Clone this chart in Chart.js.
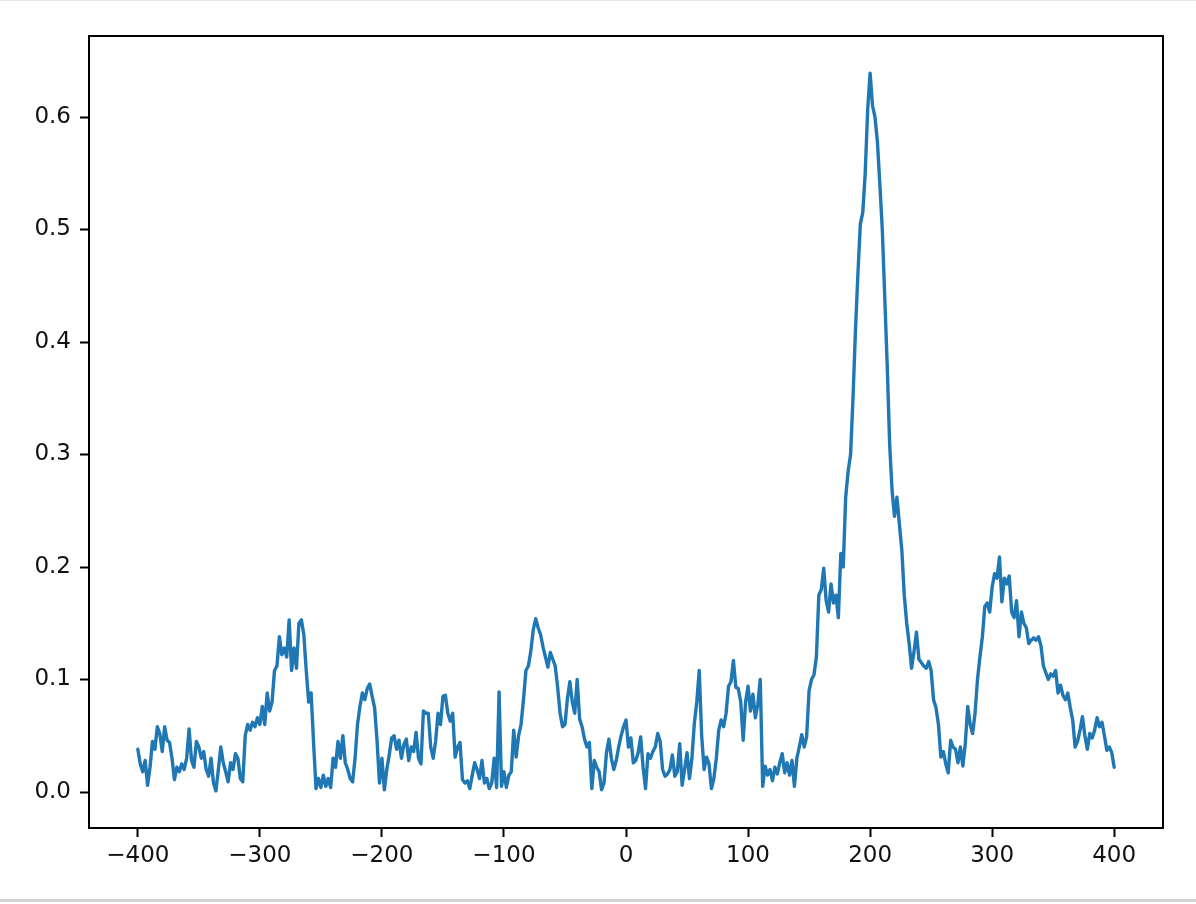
<!DOCTYPE html>
<html lang="en">
<head>
    <meta charset="UTF-8">
    <title>signal</title>
    <script src="https://cdn.jsdelivr.net/npm/chart.js"></script>
    <style>
        body { margin: 0; background: #fff; }
        #wrap {
            width: 1196px;
            height: 902px;
            border-top: 1px solid #e6e6e6;
            border-bottom: 3px solid #d3d3d3;
            box-sizing: border-box;
        }
        canvas { display: block; }
    </style>
</head>
<body>
    <div id="wrap">
        <canvas id="lineChart" width="1196" height="898"></canvas>
    </div>
    <script>
        // x positions: every 2 units from -400 to 400
        var xStart = -400;
        var xStep = 2;

        // values, one per x position
        var values = [
            0.038, 0.025, 0.018, 0.028, 0.006, 0.022, 0.045, 0.038, 0.058, 0.052,
            0.036, 0.058, 0.046, 0.044, 0.030, 0.011, 0.022, 0.018, 0.025, 0.020,
            0.030, 0.056, 0.028, 0.022, 0.045, 0.040, 0.030, 0.036, 0.020, 0.014,
            0.030, 0.008, 0.001, 0.020, 0.040, 0.026, 0.018, 0.009, 0.026, 0.020,
            0.034, 0.030, 0.012, 0.009, 0.050, 0.060, 0.055, 0.062, 0.058, 0.066,
            0.060, 0.076, 0.060, 0.088, 0.072, 0.080, 0.108, 0.112, 0.138, 0.122,
            0.128, 0.120, 0.153, 0.108, 0.128, 0.110, 0.150, 0.153, 0.140, 0.108,
            0.080, 0.088, 0.044, 0.003, 0.012, 0.004, 0.015, 0.005, 0.012, 0.004,
            0.030, 0.022, 0.045, 0.030, 0.050, 0.026, 0.020, 0.012, 0.009, 0.030,
            0.060, 0.076, 0.088, 0.082, 0.092, 0.096, 0.085, 0.075, 0.046, 0.008,
            0.030, 0.002, 0.020, 0.033, 0.048, 0.050, 0.038, 0.046, 0.030, 0.042,
            0.047, 0.028, 0.040, 0.036, 0.053, 0.030, 0.025, 0.072, 0.070, 0.070,
            0.040, 0.030, 0.045, 0.070, 0.060, 0.085, 0.086, 0.070, 0.063, 0.070,
            0.031, 0.040, 0.044, 0.011, 0.008, 0.010, 0.003, 0.015, 0.026, 0.020,
            0.012, 0.028, 0.008, 0.012, 0.003, 0.008, 0.030, 0.004, 0.089, 0.005,
            0.018, 0.004, 0.015, 0.018, 0.055, 0.031, 0.050, 0.060, 0.082, 0.108,
            0.112, 0.125, 0.144, 0.154, 0.146, 0.140, 0.129, 0.120, 0.111, 0.124,
            0.118, 0.112, 0.093, 0.070, 0.058, 0.060, 0.083, 0.098, 0.080, 0.070,
            0.100, 0.065, 0.058, 0.047, 0.040, 0.044, 0.003, 0.028, 0.022, 0.018,
            0.002, 0.008, 0.035, 0.047, 0.030, 0.020, 0.028, 0.040, 0.050, 0.058,
            0.064, 0.040, 0.048, 0.026, 0.028, 0.035, 0.049, 0.022, 0.003, 0.034,
            0.030, 0.036, 0.040, 0.052, 0.045, 0.020, 0.014, 0.016, 0.020, 0.033,
            0.014, 0.018, 0.043, 0.006, 0.020, 0.035, 0.012, 0.030, 0.061, 0.080,
            0.108, 0.050, 0.020, 0.031, 0.025, 0.003, 0.012, 0.030, 0.055, 0.064,
            0.058, 0.070, 0.094, 0.098, 0.117, 0.093, 0.092, 0.080, 0.046, 0.080,
            0.094, 0.072, 0.087, 0.066, 0.078, 0.100, 0.005, 0.023, 0.015, 0.020,
            0.010, 0.022, 0.016, 0.026, 0.034, 0.017, 0.026, 0.015, 0.028, 0.005,
            0.030, 0.040, 0.051, 0.040, 0.049, 0.090, 0.100, 0.104, 0.120, 0.175,
            0.180, 0.199, 0.170, 0.160, 0.185, 0.168, 0.175, 0.155, 0.212, 0.200,
            0.262, 0.285, 0.300, 0.350, 0.410, 0.460, 0.505, 0.515, 0.550, 0.606,
            0.639, 0.610, 0.600, 0.578, 0.540, 0.500, 0.440, 0.380, 0.310, 0.268,
            0.245, 0.262, 0.238, 0.215, 0.175, 0.150, 0.132, 0.110, 0.125, 0.142,
            0.118, 0.115, 0.112, 0.110, 0.116, 0.108, 0.082, 0.075, 0.060, 0.031,
            0.036, 0.025, 0.017, 0.046, 0.040, 0.038, 0.026, 0.040, 0.023, 0.043,
            0.076, 0.060, 0.052, 0.070, 0.100, 0.120, 0.138, 0.165, 0.168, 0.160,
            0.182, 0.194, 0.190, 0.209, 0.169, 0.190, 0.185, 0.192, 0.160, 0.155,
            0.170, 0.138, 0.160, 0.150, 0.146, 0.132, 0.135, 0.137, 0.135, 0.138,
            0.130, 0.112, 0.106, 0.100, 0.105, 0.103, 0.108, 0.088, 0.095, 0.086,
            0.082, 0.088, 0.075, 0.064, 0.040, 0.045, 0.055, 0.067, 0.050, 0.038,
            0.052, 0.048, 0.055, 0.066, 0.058, 0.062, 0.050, 0.037, 0.040, 0.035,
            0.022
        ];

        var xTicks = [-400, -300, -200, -100, 0, 100, 200, 300, 400];
        var yTicks = [0.0, 0.1, 0.2, 0.3, 0.4, 0.5, 0.6];

        var points = [];
        for (var i = 0; i < values.length; i++) {
            points.push({ x: xStart + i * xStep, y: values[i] });
        }

        // matplotlib style: box round the plot area
        var frame = {
            id: 'frame',
            afterDraw: function(chart) {
                var a = chart.chartArea;
                var ctx = chart.ctx;
                ctx.save();
                ctx.strokeStyle = '#000';
                ctx.lineWidth = 2;
                ctx.strokeRect(Math.round(a.left), Math.round(a.top),
                    Math.round(a.right - a.left), Math.round(a.bottom - a.top));
                ctx.restore();
            }
        };

        function minusSign(v) {
            return v < 0 ? '\u2212' + Math.abs(v) : String(v);
        }

        var ctx = document.getElementById('lineChart').getContext('2d');
        var myLineChart = new Chart(ctx, {
            type: 'line',
            data: {
                datasets: [{
                    data: points,
                    borderColor: '#1f77b4',
                    borderWidth: 3.4,
                    borderJoinStyle: 'round',
                    borderCapStyle: 'round',
                    pointRadius: 0,
                    tension: 0,
                    fill: false
                }]
            },
            options: {
                responsive: false,
                animation: false,
                layout: { padding: { top: 35, right: 33, left: 0, bottom: 0 } },
                plugins: { legend: { display: false }, tooltip: { enabled: false } },
                scales: {
                    x: {
                        type: 'linear',
                        min: -440,
                        max: 440,
                        afterBuildTicks: function(scale) {
                            scale.ticks = xTicks.map(function(v) { return { value: v }; });
                        },
                        afterFit: function(scale) { scale.height = 71; },
                        grid: { drawOnChartArea: false, tickLength: 9, tickWidth: 2, tickColor: '#000' },
                        border: { display: false },
                        ticks: {
                            color: '#111',
                            padding: 5,
                            maxRotation: 0,
                            font: { family: 'DejaVu Sans', size: 23 },
                            callback: function(v) { return minusSign(v); }
                        }
                    },
                    y: {
                        type: 'linear',
                        min: -0.032,
                        max: 0.672,
                        afterBuildTicks: function(scale) {
                            scale.ticks = yTicks.map(function(v) { return { value: v }; });
                        },
                        afterFit: function(scale) { scale.width = 89; },
                        grid: { drawOnChartArea: false, tickLength: 9, tickWidth: 2, tickColor: '#000' },
                        border: { display: false },
                        ticks: {
                            color: '#111',
                            padding: 9,
                            font: { family: 'DejaVu Sans', size: 23 },
                            callback: function(v) { return v.toFixed(1); }
                        }
                    }
                }
            },
            plugins: [frame]
        });
    </script>
</body>
</html>
